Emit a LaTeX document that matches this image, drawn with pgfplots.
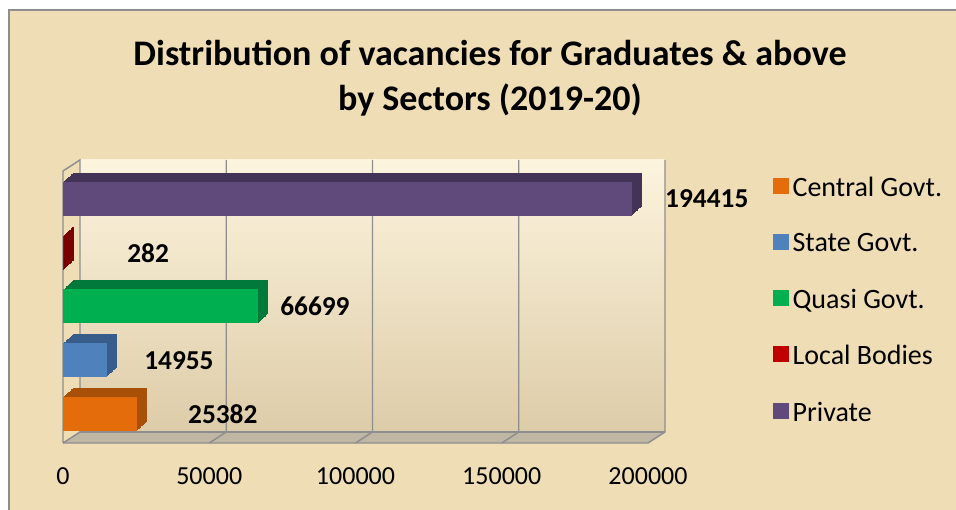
\documentclass[border=0pt]{standalone}
\usepackage{pgfplots}
\pgfplotsset{compat=1.18}
\usepackage{pgfplotstable}
\usepackage{fontspec}
\setmainfont{Carlito}
\definecolor{parch}{HTML}{EFDDB6}
\definecolor{wallTop}{HTML}{FDF4DE}
\definecolor{wallBot}{HTML}{DDCCA8}
\definecolor{floorc}{HTML}{BFB7A3}
\definecolor{gridc}{HTML}{8E8E8E}
\definecolor{cOr}{HTML}{E46C0A}\definecolor{cOrD}{HTML}{A84F08}
\definecolor{cBl}{HTML}{4F81BD}\definecolor{cBlD}{HTML}{385D8A}
\definecolor{cGr}{HTML}{00B050}\definecolor{cGrD}{HTML}{00793A}
\definecolor{cRe}{HTML}{C00000}\definecolor{cReD}{HTML}{7A0000}
\definecolor{cPu}{HTML}{604A7B}\definecolor{cPuD}{HTML}{433357}

\pgfplotstableread{
y val lx
0 25382 42700
1 14955 27700
2 66699 74200
3 282 21900
4 194415 205800
}\labeltable

\begin{document}
\begin{tikzpicture}
\begin{scope}[x=0.75pt,y=0.75pt]
\useasboundingbox (0,0) rectangle (956,510);
\fill[white] (0,0) rectangle (956,510);
\fill[parch] (9,0) rectangle (956,500);
\draw[gridc, line width=1.5pt] (9,0) -- (9,500) -- (956,500);
\node[align=center, font=\bfseries\fontsize{27}{34}\selectfont] at (490,432)
  {Distribution of vacancies for Graduates \& above\\by Sectors (2019-20)};
\end{scope}
\begin{axis}[
  at={(47.25pt,50.25pt)}, anchor=south west, scale only axis,
  width=438.75pt, height=204pt,
  xmin=0, xmax=200000, ymin=-0.54, ymax=4.52,
  axis line style={draw=none}, ytick=\empty,
  xtick={0,50000,100000,150000,200000}, scaled x ticks=false,
  major tick length=0pt,
  xticklabel style={font=\fontsize{19.5}{22}\selectfont, yshift=-15pt},
  /pgf/number format/fixed, /pgf/number format/precision=0,
  /pgf/number format/1000 sep={}, /pgf/number format/assume math mode=true,
  clip=false,
  legend style={at={(1.2137,0.99)}, anchor=north west, draw=none, fill=none,
    font=\fontsize{21}{24}\selectfont, row sep=21.3pt, inner sep=0pt,
    nodes={inner sep=2.5pt}},
  legend cell align=left,
  front/.style={xbar, bar shift=0pt, bar width=25.5pt, draw=none, fill=#1,
    legend image code/.code={\fill[#1] (0pt,-4.5pt) rectangle (12pt,7.5pt);}},
  back/.style={xbar, bar shift=0pt, bar width=25.5pt, draw=none, fill=#1, forget plot},
]
% back wall and floor
\shade[top color=wallTop, bottom color=wallBot]
  (axis cs:5812,-0.335) rectangle (axis cs:205812,4.725);
\fill[floorc] (axis cs:0,-0.54) -- (axis cs:200000,-0.54) -- (axis cs:205812,-0.335) -- (axis cs:5812,-0.335) -- cycle;
\draw[gridc, line width=1.1pt] (axis cs:0,-0.54) -- (axis cs:200000,-0.54) -- (axis cs:205812,-0.335) -- (axis cs:205812,4.725);
\draw[gridc, line width=1.1pt] (axis cs:0,-0.54) -- (axis cs:0,4.52) -- (axis cs:5812,4.725) -- (axis cs:5812,-0.335) -- (axis cs:0,-0.54);
\draw[gridc, line width=1.1pt] (axis cs:5812,-0.335) -- (axis cs:205812,-0.335);
\draw[gridc, line width=1.1pt] (axis cs:55812,4.725) -- (axis cs:55812,-0.335) -- (axis cs:50000,-0.54);
\draw[gridc, line width=1.1pt] (axis cs:105812,4.725) -- (axis cs:105812,-0.335) -- (axis cs:100000,-0.54);
\draw[gridc, line width=1.1pt] (axis cs:155812,4.725) -- (axis cs:155812,-0.335) -- (axis cs:150000,-0.54);
% 3D depth of the bars
\pgfplotsinvokeforeach{12,11,...,1}{
\addplot[back=cOrD, xshift=#1*0.625pt, yshift=#1*0.5625pt] coordinates {(25382,0)};
\addplot[back=cBlD, xshift=#1*0.625pt, yshift=#1*0.5625pt] coordinates {(14955,1)};
\addplot[back=cGrD, xshift=#1*0.625pt, yshift=#1*0.5625pt] coordinates {(66699,2)};
\addplot[back=cReD, xshift=#1*0.625pt, yshift=#1*0.5625pt] coordinates {(282,3)};
\addplot[back=cPuD, xshift=#1*0.625pt, yshift=#1*0.5625pt] coordinates {(194415,4)};
}
% front faces
\addplot[front=cOr] coordinates {(25382,0)};
\addlegendentry{Central Govt.}
\addplot[front=cBl] coordinates {(14955,1)};
\addlegendentry{State Govt.}
\addplot[front=cGr] coordinates {(66699,2)};
\addlegendentry{Quasi Govt.}
\addplot[front=cRe] coordinates {(282,3)};
\addlegendentry{Local Bodies}
\addplot[front=cPu] coordinates {(194415,4)};
\addlegendentry{Private}
% value labels
\addplot[draw=none, mark=none, forget plot, nodes near coords, point meta=explicit symbolic,
  every node near coord/.append style={anchor=west, inner sep=0pt,
    font=\bfseries\fontsize{20.5}{24}\selectfont}]
  table[x=lx, y=y, meta=val] {\labeltable};
\end{axis}
\end{tikzpicture}
\end{document}
